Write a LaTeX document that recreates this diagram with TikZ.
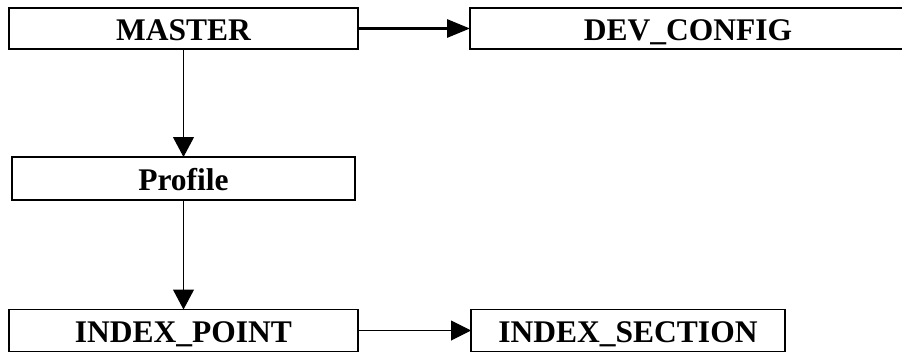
\documentclass[tikz,border=0pt]{standalone}
\usepackage{fontspec}
\setmainfont{Liberation Serif}
\usetikzlibrary{arrows.meta}
\begin{document}
\begin{tikzpicture}[x=1pt,y=-1pt,
  box/.style={draw=black, line width=1.5pt, fill=white, rectangle, inner sep=0pt, outer sep=0pt,
    text height=24pt, text depth=0pt,
    font=\fontsize{31.5}{34}\selectfont\bfseries},
  thickarrow/.style={line width=3pt, -{Triangle[length=23pt,width=18pt]}},
  thinarrow/.style={line width=1pt, -{Triangle[length=20pt,width=20pt]}},
  downarrow/.style={line width=1pt, -{Triangle[length=20pt,width=21pt]}}]
\useasboundingbox (0,0) rectangle (902,353);
\clip (0,0) rectangle (902,353);
\node[box, minimum width=349pt, minimum height=41pt] (master) at (183.5,28.5) {MASTER};
\node[box, minimum width=436pt, minimum height=41pt] (dev) at (688,28.5) {DEV\_CONFIG};
\node[box, minimum width=343pt, minimum height=43pt] (profile) at (183.5,178.5) {Profile};
\node[box, minimum width=349pt, minimum height=42pt] (ipoint) at (183.5,330.5) {INDEX\_POINT};
\node[box, minimum width=314pt, minimum height=42pt] (isection) at (628,330.5) {INDEX\_SECTION};
\draw[thickarrow] (master.east) -- (dev.west);
\draw[downarrow] (master.south) -- (profile.north);
\draw[downarrow] (profile.south) -- (ipoint.north);
\draw[thinarrow] (ipoint.east) -- (isection.west);
\end{tikzpicture}
\end{document}
